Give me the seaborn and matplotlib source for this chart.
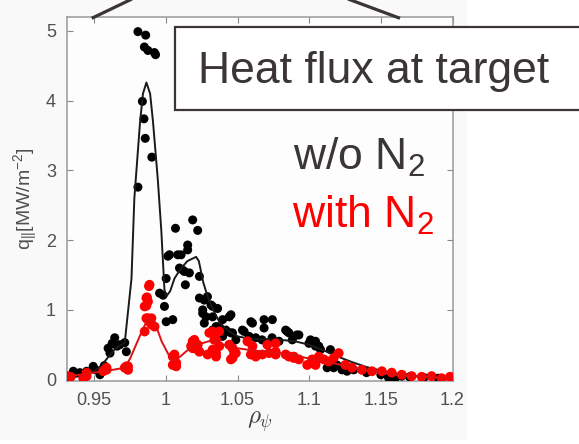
import matplotlib
matplotlib.use("Agg")
import matplotlib.pyplot as plt
from matplotlib.patches import Rectangle
from matplotlib.lines import Line2D
import seaborn as sns
import pandas as pd

# Measured heat flux at the target, without nitrogen seeding
rho_wo = [0.933, 0.9354, 0.94, 0.9447, 0.9493, 0.954, 0.951, 0.957,
          0.9597, 0.961, 0.9643, 0.9678, 0.9713, 0.9724, 0.966, 0.9625,
          0.9805, 0.9902, 0.9856, 0.9847, 0.9836, 0.9805, 0.9859, 0.985, 0.9875, 0.992, 0.9928,
          0.9956, 0.998, 0.999, 1.0002, 1.0048, 1.0002, 1.0014, 1.0025, 1.0067, 1.0083,
          1.0106, 1.0095, 1.013, 1.0164, 1.0118, 1.0136, 1.0152, 1.0152, 1.0187, 1.0222, 1.0234,
          1.0234, 1.029, 1.0268, 1.0257, 1.0257, 1.0315, 1.0361, 1.0326, 1.0268, 1.028,
          1.0326, 1.0396, 1.0442, 1.0454, 1.035, 1.0372, 1.0419, 1.0419, 1.0454, 1.0465,
          1.0326, 1.036, 1.0396, 1.0534, 1.0604, 1.0593, 1.0685, 1.0743, 1.0546, 1.0685,
          1.0581, 1.0671, 1.0741, 1.0488, 1.0627, 1.0789, 1.0847, 1.0836, 1.0859, 1.0914,
          1.0928, 1.0882, 1.0998, 1.1009, 1.1044, 1.1044, 1.1067, 1.1079, 1.1148,
          1.1125, 1.1171, 1.1194, 1.1229, 1.1264, 1.1311, 1.1553, 1.16, 1.1646,
          1.14, 1.15, 1.17, 1.18, 1.19]
q_wo = [0.05, 0.12, 0.10, 0.12, 0.19, 0.07, 0.14, 0.20,
        0.45, 0.38, 0.60, 0.50, 0.53, 0.40, 0.48, 0.52,
        2.76, 3.19, 3.46, 3.74, 3.99, 4.99, 4.94, 4.77, 4.72, 4.69, 4.66,
        1.24, 1.21, 1.05, 0.83, 0.86, 1.45, 1.77, 1.79, 2.17, 1.79,
        1.79, 1.60, 1.55, 1.53, 1.57, 1.36, 1.93, 1.86, 2.29, 2.14, 1.48,
        1.17, 1.19, 1.14, 1.00, 0.95, 1.07, 1.02, 1.05, 0.81, 0.90,
        0.90, 0.86, 0.90, 0.93, 0.76, 0.76, 0.71, 0.69, 0.67, 0.67,
        0.71, 0.64, 0.62, 0.71, 0.81, 0.83, 0.86, 0.86, 0.69, 0.74,
        0.62, 0.57, 0.60, 0.57, 0.60, 0.55, 0.69, 0.71, 0.67, 0.64,
        0.64, 0.57, 0.52, 0.57, 0.55, 0.48, 0.48, 0.43, 0.43,
        0.17, 0.17, 0.21, 0.14, 0.12, 0.14, 0.03, 0.02, 0.05,
        0.10, 0.07, 0.04, 0.03, 0.02]

# Measured heat flux at the target, with nitrogen seeding
rho_n2 = [0.931, 0.9335, 0.9423, 0.9447, 0.9447, 0.9562, 0.9586, 0.9586, 0.9713, 0.9724, 0.9736, 0.9736,
          0.9886, 0.9882, 0.9864, 0.9868, 0.9875, 0.9852, 0.9864, 0.9864, 0.9899, 0.9875, 0.9886,
          0.9852, 0.9899, 0.9921,
          1.0048, 1.006, 1.0072, 1.0048, 1.0072,
          1.0176, 1.0187, 1.0222, 1.0199, 1.0187, 1.0222, 1.0303, 1.0326, 1.0338, 1.0372,
          1.0326, 1.035, 1.0373, 1.0326, 1.0234, 1.0291, 1.035, 1.035,
          1.0442, 1.0465, 1.0488, 1.0465, 1.0454, 1.0477, 1.0569, 1.0604, 1.0593, 1.0627,
          1.0627, 1.0673, 1.0708, 1.072, 1.0766, 1.0766, 1.0766, 1.0836, 1.0859, 1.0893,
          1.0893, 1.0928, 1.0986, 1.1021, 1.1056, 1.1021, 1.1067, 1.1102, 1.1136, 1.1171,
          1.1206, 1.1044, 1.1252, 1.1298, 1.1368, 1.1438, 1.1507, 1.1576, 1.1646, 1.1715,
          1.1785, 1.1854, 1.1924, 1.1982, 1.2]
q_n2 = [0.05, 0.04, 0.02, 0.05, 0.10, 0.12, 0.14, 0.17, 0.17, 0.19, 0.14, 0.19,
        1.36, 1.34, 1.17, 1.18, 1.12, 1.05, 1.06, 0.88, 0.88, 0.88, 0.83,
        0.69, 0.79, 0.76,
        0.33, 0.36, 0.24, 0.21, 0.19,
        0.48, 0.55, 0.50, 0.57, 0.45, 0.43, 0.67, 0.69, 0.57, 0.69,
        0.67, 0.57, 0.48, 0.43, 0.40, 0.36, 0.38, 0.33,
        0.50, 0.45, 0.38, 0.31, 0.29, 0.38, 0.55, 0.48, 0.36, 0.36,
        0.33, 0.36, 0.50, 0.38, 0.52, 0.40, 0.36, 0.36, 0.33, 0.31,
        0.33, 0.29, 0.21, 0.24, 0.29, 0.29, 0.33, 0.29, 0.26, 0.31,
        0.38, 0.21, 0.21, 0.17, 0.14, 0.12, 0.12, 0.10, 0.07, 0.05,
        0.04, 0.05, 0.02, 0.04, 0.03]

# Fitted profiles
fit_rho_wo = [0.931, 0.94, 0.95, 0.955, 0.96, 0.965, 0.9713, 0.976, 0.978, 0.982, 0.984,
              0.9864, 0.989, 0.991, 0.9944, 0.9968, 0.999, 1.0002, 1.003, 1.006, 1.01,
              1.015, 1.0211, 1.023, 1.026, 1.029, 1.033, 1.038, 1.045, 1.05, 1.06, 1.07,
              1.08, 1.09, 1.10, 1.11, 1.12, 1.13, 1.14, 1.15, 1.16, 1.17, 1.18, 1.19, 1.2]
fit_q_wo = [0.02, 0.05, 0.12, 0.20, 0.33, 0.45, 0.53, 1.45, 2.60, 3.70, 4.10,
            4.26, 4.10, 3.70, 2.86, 2.14, 1.29, 1.19, 1.27, 1.45, 1.58,
            1.70, 1.76, 1.70, 1.40, 1.20, 1.00, 0.80, 0.68, 0.62, 0.58, 0.58,
            0.57, 0.55, 0.50, 0.42, 0.33, 0.25, 0.18, 0.13, 0.09, 0.06, 0.04, 0.03, 0.02]
fit_rho_n2 = [0.931, 0.94, 0.95, 0.96, 0.9713, 0.975, 0.9817, 0.9875, 0.9921, 0.997, 1.0036,
              1.0048, 1.01, 1.015, 1.02, 1.025, 1.03, 1.035, 1.04, 1.05, 1.06, 1.07, 1.08,
              1.09, 1.10, 1.11, 1.12, 1.13, 1.14, 1.15, 1.16, 1.17, 1.18, 1.19, 1.2]
fit_q_n2 = [0.05, 0.07, 0.10, 0.13, 0.17, 0.30, 0.62, 0.88, 0.83, 0.55, 0.29,
            0.26, 0.33, 0.42, 0.50, 0.52, 0.55, 0.56, 0.50, 0.45, 0.42, 0.40, 0.38,
            0.35, 0.30, 0.27, 0.22, 0.17, 0.13, 0.10, 0.07, 0.05, 0.04, 0.03, 0.03]

x_ticks = [0.95, 1.0, 1.05, 1.1, 1.15, 1.2]
x_ticklabels = ["0.95", "1", "1.05", "1.1", "1.15", "1.2"]
y_ticks = [0, 1, 2, 3, 4, 5]

sns.set_style("white")
plt.rcParams["font.family"] = ["Liberation Sans", "DejaVu Sans"]
plt.rcParams["mathtext.fontset"] = "custom"
plt.rcParams["mathtext.rm"] = "Liberation Sans"
plt.rcParams["mathtext.it"] = "Liberation Sans:italic"

W, H = 579, 444
fig = plt.figure(figsize=(W / 100, H / 100), dpi=100, facecolor="white")

# light panel behind the plot
fig.patches.append(Rectangle((0, 1 - 440 / H), 467 / W, 440 / H, transform=fig.transFigure,
                             facecolor="#f9f9f9", edgecolor="none", zorder=-5))

ax = fig.add_axes([67 / W, 1 - 381 / H, (452.5 - 67) / W, (381 - 17) / H])
ax.set_facecolor("#fdfdfd")

df_wo = pd.DataFrame({"rho": rho_wo, "q": q_wo})
df_n2 = pd.DataFrame({"rho": rho_n2, "q": q_n2})
fit_wo = pd.DataFrame({"rho": fit_rho_wo, "q": fit_q_wo})
fit_n2 = pd.DataFrame({"rho": fit_rho_n2, "q": fit_q_n2})

sns.scatterplot(data=df_wo, x="rho", y="q", ax=ax, color="black", s=42,
                edgecolor="none", zorder=3)
sns.lineplot(data=fit_wo, x="rho", y="q", ax=ax, color="#1a1a1a", lw=1.4,
             estimator=None, sort=False, zorder=4)
sns.scatterplot(data=df_n2, x="rho", y="q", ax=ax, color="#ff0000", s=50,
                edgecolor="none", zorder=5)
sns.lineplot(data=fit_n2, x="rho", y="q", ax=ax, color="#e01010", lw=1.4,
             estimator=None, sort=False, zorder=6)

ax.set_xlim(0.931, 1.2)
ax.set_ylim(-0.02, 5.2)
ax.set_xticks(x_ticks)
ax.set_xticklabels(x_ticklabels)
ax.set_yticks(y_ticks)
ax.tick_params(direction="in", length=4, width=0.8, color="#888888",
               labelcolor="#505050", labelsize=13, top=True, right=True,
               bottom=True, left=True)
ax.tick_params(axis="x", pad=8)
ax.tick_params(axis="y", pad=8)
for sp in ax.spines.values():
    sp.set_color("#999999")
    sp.set_linewidth(1.1)

ax.set_xlabel(r"$\rho_\psi$", fontsize=18, color="#404040", math_fontfamily="cm", labelpad=0)
ax.set_ylabel(r"q$_{||}$[MW/m$^{\mathregular{-2}}$]", fontsize=14, color="#505050", labelpad=4)

# callout box and leader lines
ink = "#3b3535"
fig.add_artist(Line2D([91.7 / W, 132 / W], [1 - 18.3 / H, 1 + 1 / H], color=ink, lw=2.3,
                      transform=fig.transFigure, solid_capstyle="butt"))
fig.add_artist(Line2D([400 / W, 348 / W], [1 - 18.3 / H, 1 + 1 / H], color=ink, lw=2.3,
                      transform=fig.transFigure, solid_capstyle="butt"))
fig.patches.append(Rectangle((175 / W, 1 - 110 / H), (590 - 175) / W, (110 - 27) / H,
                             transform=fig.transFigure, facecolor="white",
                             edgecolor=ink, lw=1.6, zorder=10))
fig.text(198 / W, 1 - 83 / H, "Heat flux at target", fontsize=32, color=ink,
         va="baseline", ha="left", zorder=11)
fig.text(293 / W, 1 - 170 / H, r"w/o N$_2$", fontsize=32, color=ink,
         va="baseline", ha="left", zorder=11)
fig.text(292 / W, 1 - 228 / H, r"with N$_2$", fontsize=32, color="#ff0000",
         va="baseline", ha="left", zorder=11)

fig.savefig("out.png", dpi=100, facecolor="white")
